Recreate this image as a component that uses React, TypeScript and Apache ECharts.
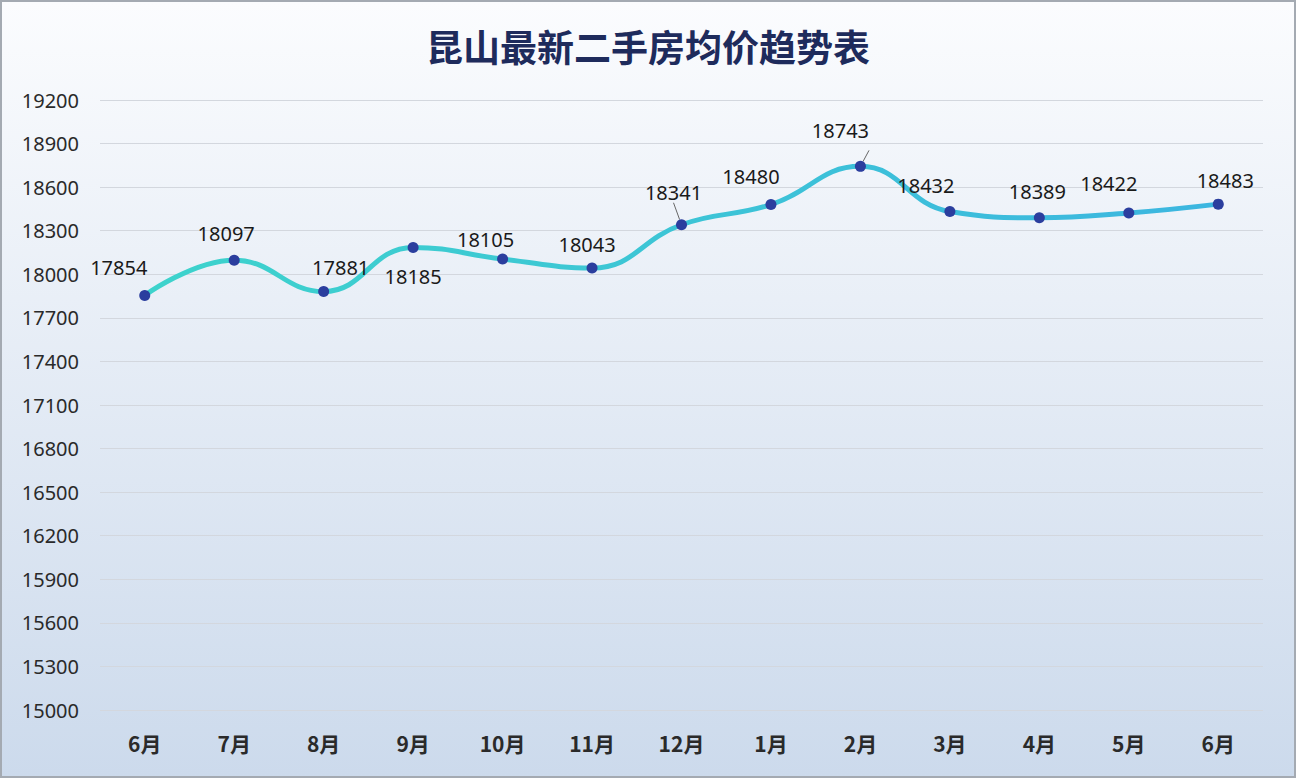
import React, { useEffect, useRef } from "react";
import * as echarts from "echarts";

const titleText = "昆山最新二手房均价趋势表";
const categories = ["6月", "7月", "8月", "9月", "10月", "11月", "12月", "1月", "2月", "3月", "4月", "5月", "6月"];
const prices = [17854, 18097, 17881, 18185, 18105, 18043, 18341, 18480, 18743, 18432, 18389, 18422, 18483];
const labelOffsets: [number, number][] = [
  [-26, -28], [-8, -27], [17, -24], [0, 29], [-17, -20], [-5, -24], [-8, -32],
  [-20, -28], [-20, -36], [-24, -26], [-2, -26], [-20, -29], [7, -24],
];
const leaderLines = [false, false, false, false, false, false, true, false, true, false, false, false, false];
const yMin = 15000;
const yMax = 19200;
const yStep = 300;

export default function App() {
  const ref = useRef<HTMLDivElement>(null);
  useEffect(() => {
    if (!ref.current) return;
    const chart = echarts.init(ref.current, undefined, { renderer: "svg" });
    const data = prices.map((v, i) => ({
      value: v,
      label: { offset: labelOffsets[i] },
      labelLine: { show: leaderLines[i] },
    }));
    chart.setOption({
      animation: false,
      backgroundColor: new echarts.graphic.LinearGradient(0, 0, 0, 1, [
        { offset: 0, color: "#FBFCFE" },
        { offset: 1, color: "#CCDAEC" },
      ]),
      title: {
        text: titleText,
        left: "center",
        top: 20,
        textStyle: {
          fontFamily: "Noto Sans CJK SC",
          fontWeight: "bold",
          fontSize: 37,
          color: "#1E2B5C",
        },
      },
      grid: { left: 98, right: 31, top: 98, bottom: 66 },
      xAxis: {
        type: "category",
        data: categories,
        boundaryGap: true,
        axisLine: { show: false },
        axisTick: { show: false },
        axisLabel: {
          fontFamily: "Noto Sans CJK SC",
          fontSize: 21,
          fontWeight: "bold",
          color: "#2A2A2A",
          margin: 22,
        },
      },
      yAxis: {
        type: "value",
        min: yMin,
        max: yMax,
        interval: yStep,
        axisLine: { show: false },
        axisTick: { show: false },
        splitLine: { lineStyle: { color: "#D3D7DE", width: 1 } },
        axisLabel: {
          fontFamily: "Noto Sans",
          fontSize: 20,
          color: "#2A2A2A",
          margin: 21,
          formatter: (v: number) => String(v),
        },
      },
      series: [
        {
          type: "line",
          data,
          smooth: 0.45,
          symbol: "circle",
          symbolSize: 11,
          itemStyle: { color: "#2B3E9E" },
          lineStyle: {
            width: 5,
            color: new echarts.graphic.LinearGradient(0, 0, 1, 0, [
              { offset: 0, color: "#3DD3CC" },
              { offset: 1, color: "#3CB6E0" },
            ]),
          },
          label: {
            show: true,
            position: "inside",
            fontFamily: "Noto Sans",
            fontSize: 20,
            color: "#1A1A1A",
          },
          labelLine: { show: false, lineStyle: { color: "#666", width: 1 } },
        },
      ],
    });
    return () => chart.dispose();
  }, []);
  return (
    <div
      style={{
        position: "absolute",
        left: 0,
        top: 0,
        width: 1296,
        height: 778,
        boxSizing: "border-box",
        border: "2px solid #A4AAB2",
      }}
    >
      <div ref={ref} style={{ width: 1292, height: 774 }} />
    </div>
  );
}
